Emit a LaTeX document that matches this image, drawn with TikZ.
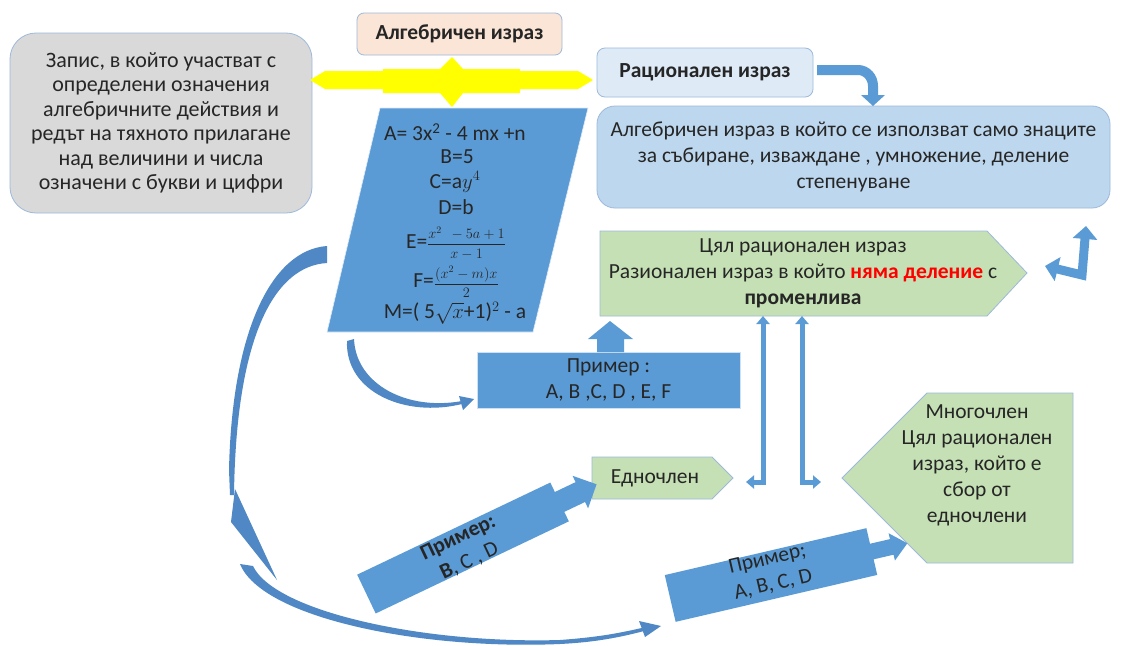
\documentclass[tikz,border=0pt]{standalone}
\usepackage{fontspec}
\setmainfont{Carlito}
\usetikzlibrary{arrows.meta}
\definecolor{accent}{HTML}{5B9BD5}
\definecolor{darkacc}{HTML}{4F88C4}
\definecolor{edge}{HTML}{9DB9DB}
\definecolor{peach}{HTML}{FBE5D6}
\definecolor{grayb}{HTML}{D9D9D9}
\definecolor{paleblue}{HTML}{DEEBF7}
\definecolor{lightblue}{HTML}{BDD7EE}
\definecolor{lgreen}{HTML}{C5E0B4}
\definecolor{yel}{HTML}{FFFF00}
\definecolor{redt}{HTML}{FF0000}
\definecolor{ink}{HTML}{262626}
\begin{document}
\begin{tikzpicture}[x=1pt,y=-1pt,
  txt/.style={align=center, font=\fontsize{21.5}{26}\selectfont, inner sep=0pt, text=ink},
  box/.style={draw=edge, line width=0.8pt, align=center, font=\fontsize{21.5}{26}\selectfont, text=ink, inner sep=0pt}]
\path[use as bounding box] (0,0) rectangle (1121,645);
\fill[white] (0,0) rectangle (1121,645);

% top title
\node[box, fill=peach, rounded corners=7pt, minimum width=205pt, minimum height=42pt] (alg) at (459.5,34) {\bfseries Алгебричен израз};

% definition box
\node[box, fill=grayb, rounded corners=26pt, minimum width=302pt, minimum height=180pt, font=\fontsize{22}{24.5}\selectfont] (def) at (161,123)
 {Запис, в който участват с\\определени означения\\алгебричните действия и\\редът на тяхното прилагане\\над величини и числа\\означени с букви и цифри};

% rational expression
\node[box, fill=paleblue, rounded corners=8pt, minimum width=216pt, minimum height=49pt] (rat) at (705,72.5) {\bfseries Рационален израз};
\node[box, fill=lightblue, rounded corners=18pt, minimum width=513pt, minimum height=102pt] (ratdef) at (853.5,157)
 {Алгебричен израз в който се използват само знаците\\за събиране, изваждане , умножение, деление\\степенуване};

% yellow four-way arrow
\fill[yel] (310,80) -- (325,71) -- (383,71) -- (383,69) -- (440,69) -- (452,57) -- (463,69) -- (520,69) -- (520,71) -- (578,71) -- (593,80)
  -- (578,89) -- (520,89) -- (520,93) -- (463,93) -- (452,107) -- (440,93) -- (383,93) -- (383,89) -- (325,89) -- cycle;

% bent arrow rat -> ratdef
\coordinate (b1) at (817,70);
\coordinate (b2) at (873,106);
\draw[accent, line width=10pt] (b1) -- (858,70) to[out=0,in=90] (873,86) -- (873,96);
\fill[accent] (861,95) -- (885,95) -- (b2) -- cycle;

% parallelogram with examples
\fill[accent] (380,108) -- (588,108) -- (533,332) -- (327,332) -- cycle;
\draw[white!80!accent, line width=0.6pt] (380,108) -- (588,108) -- (533,332) -- (327,332) -- cycle;
\node[txt] (pa) at (455,132) {A= 3x\textsuperscript{2} - 4 mx +n};
\node[txt] (pb) at (457,157) {B=5};
\node[txt] (pc) at (455,182) {C=a$y^{4}$};
\node[txt] (pd) at (456,207) {D=b};
\node[txt] (pe) at (456,243) {E=\fontsize{14}{14}\selectfont$\displaystyle\frac{x^{2}\;\, -5a+1}{x-1}$};
\node[txt] (pf) at (456,282) {F=\fontsize{14}{14}\selectfont$\displaystyle\frac{(x^{2}-m)x}{2}$};
\node[txt] (pm) at (455,313) {M=( 5$\sqrt{x}$+1)$^{2}$ - a};

% example box
\node[box, fill=accent, draw=white!70!accent, minimum width=263pt, minimum height=56pt] (ex1) at (608.5,380) {Пример :\\A, B ,C, D , E, F};
\fill[accent] (597,352) -- (597,339) -- (588,339) -- (610,321) -- (633,339) -- (624,339) -- (624,352) -- cycle;

% small curved arrow parallelogram -> example
\fill[darkacc] (347,341) .. controls (345,392) and (405,418) .. (462,404) -- (462,401) .. controls (408,411) and (356,385) .. (354,339) -- cycle;
\fill[darkacc] (459,396) -- (474,399) -- (463,410) -- cycle;

% whole rational expression
\fill[lgreen] (600,231) -- (987,231) -- (1027,273) -- (987,316) -- (600,316) -- cycle;
\draw[edge, line width=0.8pt] (600,231) -- (987,231) -- (1027,273) -- (987,316) -- (600,316) -- cycle;
\node[txt] (whole) at (803,273) {Цял рационален израз\\Разионален израз в който \textcolor{redt}{\bfseries няма деление} с\\\bfseries променлива};

% L-shaped double arrow
\draw[accent, line width=9pt, line join=miter, {Triangle[width=24pt,length=13pt]}-{Triangle[width=24pt,length=13pt]}] (1045,266) -- (1082,275) -- (1086,226);

% vertical double arrows
\draw[accent, line width=5pt, {Triangle[width=13pt,length=8pt]}-{Triangle[width=13pt,length=8pt]}] (763,316) -- (763,482) -- (746,482);
\draw[accent, line width=5pt, {Triangle[width=13pt,length=8pt]}-{Triangle[width=13pt,length=8pt]}] (802,316) -- (802,482) -- (821,482);

% monomial
\fill[lgreen] (592,457) -- (712,457) -- (733,478) -- (712,499) -- (592,499) -- cycle;
\draw[edge, line width=0.8pt] (592,457) -- (712,457) -- (733,478) -- (712,499) -- (592,499) -- cycle;
\node[txt] (mono) at (655,478) {Едночлен};

% polynomial
\fill[lgreen] (842,478) -- (927,393) -- (1073,393) -- (1073,563) -- (927,563) -- cycle;
\draw[edge, line width=0.8pt] (842,478) -- (927,393) -- (1073,393) -- (1073,563) -- (927,563) -- cycle;
\node[txt] (poly) at (977,465.5) {Многочлен\\Цял рационален\\израз, който е\\сбор от\\едночлени};

% rotated block arrow 1 (B, C, D)
\begin{scope}[shift={(463,548)}, rotate=25.5]
  \fill[accent] (-107,-21.5) -- (107,-21.5) -- (107,-11) -- (130,-11) -- (130,-18) -- (148,0) -- (130,18) -- (130,11) -- (107,11) -- (107,21.5) -- (-107,21.5) -- cycle;
  \node[txt, rotate=25.5] (ex2) at (0,2) {\bfseries Пример:\\\textbf{B}, C , D};
\end{scope}

% rotated block arrow 2 (A, B, C, D)
\begin{scope}[shift={(771,575)}, rotate=13.1]
  \fill[accent] (-103.5,-24) -- (103.5,-24) -- (103.5,-8) -- (124,-8) -- (124,-14) -- (140,0) -- (124,14) -- (124,8) -- (103.5,8) -- (103.5,24) -- (-103.5,24) -- cycle;
  \node[txt, rotate=13.1] (ex3) at (0,-3) {Пример;\\A, B, C, D};
\end{scope}

% big left curved arrow
\fill[darkacc] (327,246) .. controls (272,250) and (232,330) .. (229,470) -- (230,495) -- (234,495) .. controls (236,335) and (275,266) .. (327,263) -- cycle;
\fill[darkacc] (235,489) -- (277,580) -- (231,522) -- cycle;

% bottom curved arrow
\fill[darkacc] (240,564) .. controls (262,618) and (420,650) .. (560,644) .. controls (600,642) and (625,636) .. (648,630) -- (646,627) .. controls (620,633) and (600,637) .. (560,640) .. controls (425,644) and (275,612) .. (253,566) -- cycle;
\fill[darkacc] (639,621) -- (661,626) -- (645,637) -- cycle;
\end{tikzpicture}
\end{document}
